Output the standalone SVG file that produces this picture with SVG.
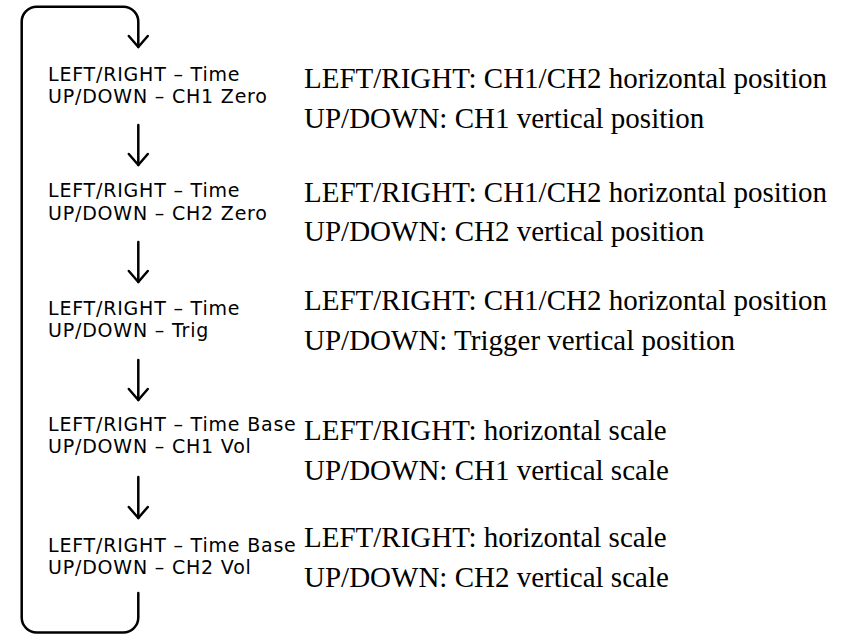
<svg xmlns="http://www.w3.org/2000/svg" width="847" height="635" viewBox="0 0 847 635">
<style>
.k{font-family:"DejaVu Sans",sans-serif;font-size:19px;letter-spacing:0.8px;fill:#000}
.d{font-family:"Liberation Serif",serif;font-size:29px;fill:#000}
.c{fill:none;stroke:#000;stroke-width:2.5;stroke-linecap:round;stroke-linejoin:round}
</style>
<defs>
<marker id="ah" markerUnits="userSpaceOnUse" markerWidth="30" markerHeight="30" viewBox="-15 -15 30 30" refX="0" refY="0" orient="auto">
<path d="M-11,-9.5 L0,0 L-11,9.5" fill="none" stroke="#000" stroke-width="2.5" stroke-linecap="round" stroke-linejoin="round"/>
</marker>
</defs>
<rect width="847" height="635" fill="#fff"/>
<g id="connectors">
<path class="c" marker-end="url(#ah)" d="M138.3,593 V617.5 A15,15 0 0 1 123.3,632.5 H36.7 A15,15 0 0 1 21.7,617.5 V21.7 A15,15 0 0 1 36.7,6.7 H123.3 A15,15 0 0 1 138.3,21.7 V47"/>
<path class="c" marker-end="url(#ah)" d="M138.3,125 V165"/>
<path class="c" marker-end="url(#ah)" d="M138.3,242 V282"/>
<path class="c" marker-end="url(#ah)" d="M138.3,360 V400"/>
<path class="c" marker-end="url(#ah)" d="M138.3,477 V518"/>
</g>
<g id="mode1">
<text class="k" x="48" y="81">LEFT/RIGHT – Time</text>
<text class="k" x="48" y="103">UP/DOWN – CH1 Zero</text>
<text class="d" x="304" y="88">LEFT/RIGHT: CH1/CH2 horizontal position</text>
<text class="d" x="304" y="128">UP/DOWN: CH1 vertical position</text>
</g>
<g id="mode2">
<text class="k" x="48" y="197">LEFT/RIGHT – Time</text>
<text class="k" x="48" y="220">UP/DOWN – CH2 Zero</text>
<text class="d" x="304" y="202">LEFT/RIGHT: CH1/CH2 horizontal position</text>
<text class="d" x="304" y="241">UP/DOWN: CH2 vertical position</text>
</g>
<g id="mode3">
<text class="k" x="48" y="315">LEFT/RIGHT – Time</text>
<text class="k" x="48" y="337">UP/DOWN – Trig</text>
<text class="d" x="304" y="310">LEFT/RIGHT: CH1/CH2 horizontal position</text>
<text class="d" x="304" y="350">UP/DOWN: Trigger vertical position</text>
</g>
<g id="mode4">
<text class="k" x="48" y="431">LEFT/RIGHT – Time Base</text>
<text class="k" x="48" y="453">UP/DOWN – CH1 Vol</text>
<text class="d" x="304" y="440">LEFT/RIGHT: horizontal scale</text>
<text class="d" x="304" y="480">UP/DOWN: CH1 vertical scale</text>
</g>
<g id="mode5">
<text class="k" x="48" y="552">LEFT/RIGHT – Time Base</text>
<text class="k" x="48" y="574">UP/DOWN – CH2 Vol</text>
<text class="d" x="304" y="547">LEFT/RIGHT: horizontal scale</text>
<text class="d" x="304" y="587">UP/DOWN: CH2 vertical scale</text>
</g>
</svg>
